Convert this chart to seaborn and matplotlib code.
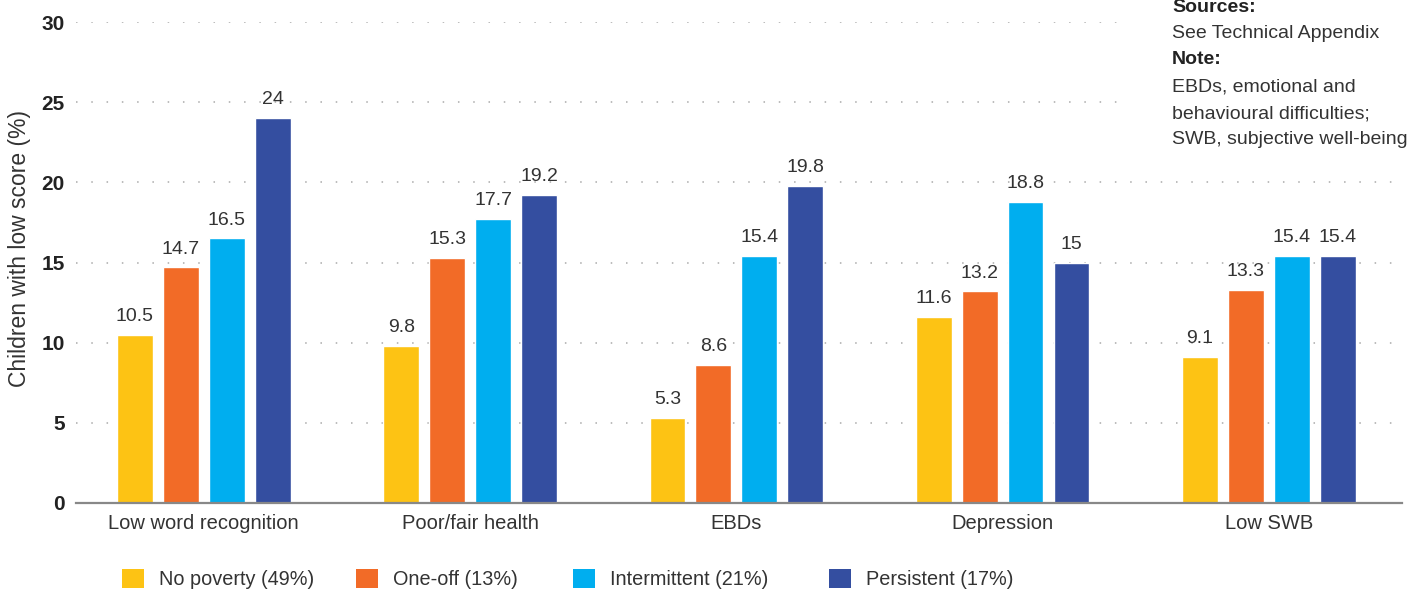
import pandas as pd
import matplotlib.pyplot as plt
import seaborn as sns
from matplotlib.patches import Patch

# data
categories = ['Low word recognition', 'Poor/fair health', 'EBDs', 'Depression', 'Low SWB']
groups = ['No poverty (49%)', 'One-off (13%)', 'Intermittent (21%)', 'Persistent (17%)']
no_poverty = [10.5, 9.8, 5.3, 11.6, 9.1]
one_off = [14.7, 15.3, 8.6, 13.2, 13.3]
intermittent = [16.5, 17.7, 15.4, 18.8, 15.4]
persistent = [24, 19.2, 19.8, 15, 15.4]
value_labels = [
    ['10.5', '9.8', '5.3', '11.6', '9.1'],
    ['14.7', '15.3', '8.6', '13.2', '13.3'],
    ['16.5', '17.7', '15.4', '18.8', '15.4'],
    ['24', '19.2', '19.8', '15', '15.4'],
]
yticks = [0, 5, 10, 15, 20, 25, 30]
colors = ['#FDC314', '#F26B27', '#00AEEF', '#344EA0']

rows = []
for g, vals in zip(groups, [no_poverty, one_off, intermittent, persistent]):
    for c, v in zip(categories, vals):
        rows.append({'cat': c, 'group': g, 'val': v})
df = pd.DataFrame(rows)

sns.set_style('white')
plt.rcParams['font.family'] = ['Liberation Sans', 'DejaVu Sans']
txt = '#333333'

fig = plt.figure(figsize=(14.21, 5.92), dpi=100)
ax = fig.add_axes([76 / 1421, 1 - 503 / 592, (1402 - 76) / 1421, (503 - 22) / 592])

sns.barplot(data=df, x='cat', y='val', hue='group', hue_order=groups, order=categories,
            palette=colors, width=0.69, gap=0.22, saturation=1, legend=False, ax=ax, zorder=3)

for cont, labs in zip(ax.containers, value_labels):
    ax.bar_label(cont, labels=labs, padding=7, fontsize=14, color=txt)

ax.set_ylim(0, 30)
ax.set_xlim(-0.48, 4.5)
ax.set_yticks(yticks)
ax.set_yticklabels([str(t) for t in yticks], fontsize=15, fontweight='bold', color='#222222')
ax.tick_params(axis='y', length=0, pad=8)
ax.tick_params(axis='x', length=0, pad=8, labelsize=14.5, labelcolor=txt)
ax.set_xlabel('')
ax.set_ylabel('Children with low score (%)', fontsize=16.5, color=txt)
ax.yaxis.set_label_coords(-45 / 1326, 0.53)

for t in yticks[1:]:
    xmax = 0.795 if t >= 25 else 1.0
    ax.axhline(t, xmin=0, xmax=xmax, color='#aaaaaa', lw=1.1, ls=(0, (1, 9)), zorder=1)

for s in ['top', 'right', 'left']:
    ax.spines[s].set_visible(False)
ax.spines['bottom'].set_color('#888888')
ax.spines['bottom'].set_linewidth(1.6)
ax.spines['bottom'].set_zorder(4)

# notes
nx = 1172 / 1421
fig.text(nx, 1 - 7 / 592, 'Sources:', fontsize=14, fontweight='bold', color='#222222', va='center')
fig.text(nx, 1 - 33 / 592, 'See Technical Appendix', fontsize=14, color=txt, va='center')
fig.text(nx, 1 - 59 / 592, 'Note:', fontsize=14, fontweight='bold', color='#222222', va='center')
fig.text(nx, 1 - 87 / 592, 'EBDs, emotional and', fontsize=14, color=txt, va='center')
fig.text(nx, 1 - 114 / 592, 'behavioural difficulties;', fontsize=14, color=txt, va='center')
fig.text(nx, 1 - 140 / 592, 'SWB, subjective well-being', fontsize=14, color=txt, va='center')

# legend entries placed one by one, as in the reference
leg_x = [122, 356, 573, 829]
for g, c, lx in zip(groups, colors, leg_x):
    lg = fig.legend([Patch(facecolor=c, edgecolor='none')], [g], loc='center left',
                    bbox_to_anchor=(lx / 1421, 1 - 579 / 592), borderaxespad=0, borderpad=0,
                    frameon=False, fontsize=14.3, handlelength=1.1, handleheight=1.1,
                    handletextpad=0.75, labelcolor=txt)

fig.savefig('out.png', dpi=100)
